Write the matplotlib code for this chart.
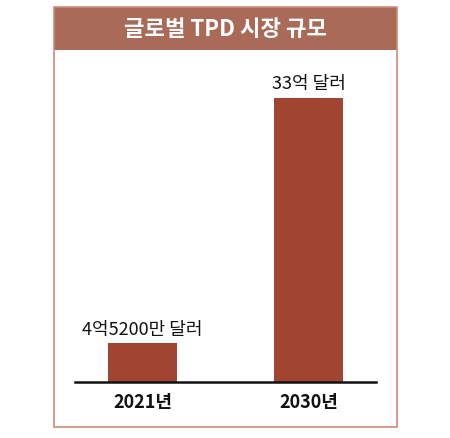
import matplotlib.pyplot as plt
import matplotlib.patches as patches

plt.rcParams['font.family'] = ['Noto Sans CJK KR', 'DejaVu Sans']

title = '글로벌 TPD 시장 규모'
years = ['2021년', '2030년']
values = [4.52, 33]  # 억 달러
value_labels = ['4억5200만 달러', '33억 달러']

W, H = 450, 439
fig = plt.figure(figsize=(W / 100, H / 100), dpi=100)


def fx(px):
    return px / W


def fy(py):
    return 1 - py / H


# outer frame and title band
frame = patches.Rectangle((fx(54), fy(428)), fx(397) - fx(54), fy(8) - fy(428),
                          transform=fig.transFigure, fill=False,
                          edgecolor='#cf8a78', linewidth=1.2)
band = patches.Rectangle((fx(54), fy(51)), fx(397) - fx(54), fy(8) - fy(51),
                         transform=fig.transFigure, facecolor='#a96a58',
                         edgecolor='none')
fig.patches.extend([band, frame])
fig.text(fx(225), fy(30), title, ha='center', va='center',
         color='white', fontsize=16, fontweight='bold')

# plot area: baseline at y=383, top at y=60
base, top = 383, 60
ax = fig.add_axes([fx(75), fy(base), fx(376) - fx(75), fy(top) - fy(base)])
ax.set_ylim(0, 33 * (base - top) / (base - 99))
ax.set_xlim(-0.4066, 1.4066)
ax.patch.set_alpha(0)

x = range(len(years))
bars = ax.bar(x, values, width=0.4157, color='#a24432')
for b, lab in zip(bars, value_labels):
    ax.annotate(lab, (b.get_x() + b.get_width() / 2, b.get_height()),
                xytext=(0, 4), textcoords='offset points',
                ha='center', va='bottom', fontsize=13, color='#111111')

for s in ['top', 'right', 'left']:
    ax.spines[s].set_visible(False)
ax.spines['bottom'].set_linewidth(1.8)
ax.spines['bottom'].set_color('#111111')
ax.set_yticks([])
ax.set_xticks(list(x))
ax.set_xticklabels(years, fontsize=13, fontweight='bold', color='#111111')
ax.tick_params(axis='x', length=0, pad=7)

fig.savefig('out.png', dpi=100)
